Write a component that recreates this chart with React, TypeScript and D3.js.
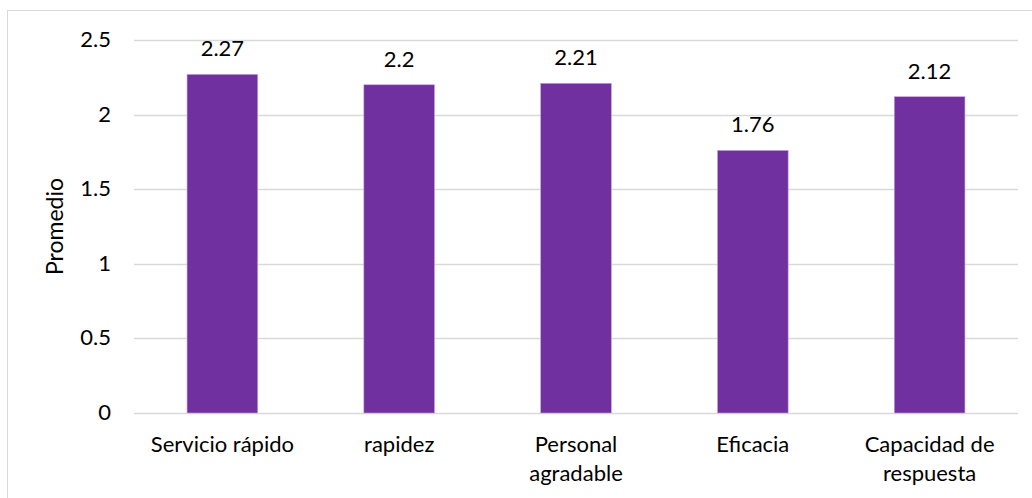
import React from "react";
import * as d3 from "d3";

const categories: string[][] = [
  ["Servicio rápido"],
  ["rapidez"],
  ["Personal", "agradable"],
  ["Eficacia"],
  ["Capacidad de", "respuesta"],
];
const values: number[] = [2.27, 2.2, 2.21, 1.76, 2.12];
const yTicks: number[] = [0, 0.5, 1, 1.5, 2, 2.5];
const yTitle = "Promedio";

const W = 1032;
const H = 498;
const FONT = "Lato, 'Open Sans', sans-serif";

export default function App() {
  const keys = categories.map((c) => c.join(" "));
  const x = d3
    .scaleBand<string>()
    .domain(keys)
    .range([134, 1018])
    .paddingInner(0.6)
    .paddingOuter(0.3);
  const y = d3.scaleLinear().domain([0, 2.5]).range([413, 40]);

  return (
    <svg
      width={W}
      height={H}
      style={{ position: "absolute", left: 0, top: 0, background: "#fff" }}
      fontFamily={FONT}
    >
      <rect x={7.5} y={10.5} width={W + 20} height={H + 20} fill="#fff" stroke="#d9d9d9" strokeWidth={1} />
      {yTicks.map((t) => (
        <g key={t}>
          <line x1={134} x2={1018} y1={Math.round(y(t)) + 0.5} y2={Math.round(y(t)) + 0.5} stroke="#d9d9d9" strokeWidth={1.5} />
          <text x={111} y={y(t) + 7} textAnchor="end" fontSize={22} fill="#000">
            {t}
          </text>
        </g>
      ))}
      {values.map((v, i) => {
        const k = keys[i];
        const bx = x(k)!;
        const bw = x.bandwidth();
        return (
          <g key={k}>
            <rect x={bx} y={y(v)} width={bw} height={y(0) - y(v)} fill="#7030a0" stroke="#c9a8e0" strokeWidth={0.6} />
            <text x={bx + bw / 2} y={y(v) - 18} textAnchor="middle" fontSize={22} fill="#000">
              {v}
            </text>
          </g>
        );
      })}
      {categories.map((lines, i) => {
        const k = keys[i];
        const cx = x(k)! + x.bandwidth() / 2;
        return (
          <text key={k} x={cx} y={452} textAnchor="middle" fontSize={22} fill="#000">
            {lines.map((l, j) => (
              <tspan key={j} x={cx} dy={j === 0 ? 0 : 29}>
                {l}
              </tspan>
            ))}
          </text>
        );
      })}
      <text
        transform={`translate(63,${(y(0) + y(2.5)) / 2}) rotate(-90)`}
        textAnchor="middle"
        fontSize={23}
        fill="#000"
      >
        {yTitle}
      </text>
    </svg>
  );
}
